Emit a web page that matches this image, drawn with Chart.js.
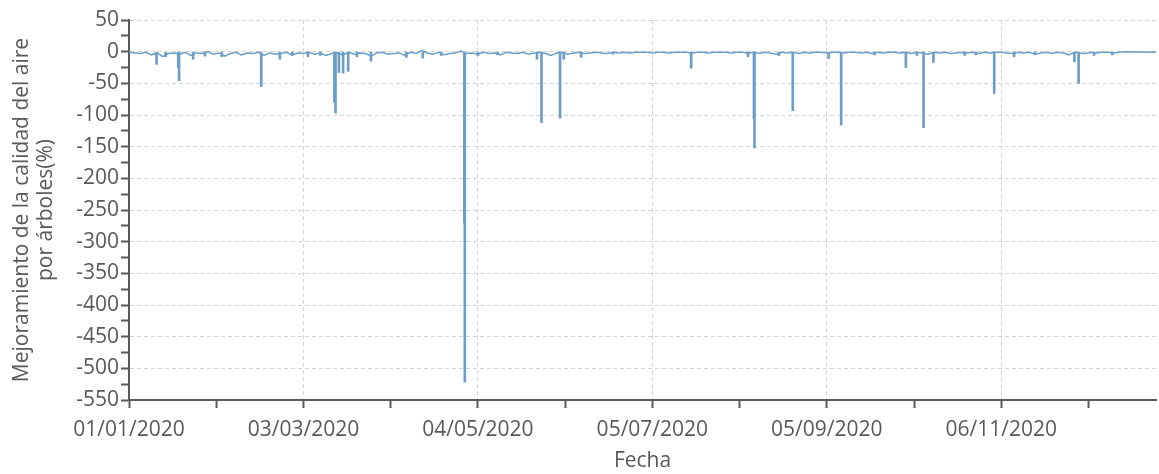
<!DOCTYPE html>
<html><head><meta charset="utf-8">
<script src="https://cdn.jsdelivr.net/npm/chart.js@4/dist/chart.umd.min.js"></script>
<style>html,body{margin:0;padding:0;background:#fff}#wrap{width:1159px;height:474px}</style>
</head><body><div id="wrap"><canvas id="c" width="1159" height="474"></canvas></div>
<script>
// Day offsets from 01/01/2020; baseline sampled every 2 days (days 0..354)
const baselineValues = [
 -1,-2,-3,-1,-5,-2,-8,-3,-2,-4,-1,-6,-2,-3,0,-4,-2,-7,-3,-1,-5,-2,-3,-1,-6,-2,-4,-3,-1,-5,-2,
 -3,-1,-4,-2,-6,-3,-2,-5,-1,-4,-2,-3,-7,-2,-1,-4,-3,-2,-6,-1,-3,2,-2,-4,-1,-5,-3,-2,1,-3,
 -2,-4,-1,-3,-2,-5,-1,-2,-3,-1,-4,-2,-1,-3,-6,-2,-1,-4,-2,-1,-3,-2,-1,-2,-3,-1,-2,-1,-2,-1,
 -1,-1,-2,-1,-1,-2,-1,-1,-1,-2,-1,-1,-2,-1,-1,-1,-2,-1,-1,-2,-1,-3,-1,-2,-4,-1,-2,-1,-3,-1,
 -2,-1,-1,-2,-1,-1,-2,-1,-1,-2,-1,-3,-1,-2,-1,-1,-2,-1,-3,-1,-2,-4,-1,-2,-1,-3,-2,-1,-2,-1,
 -3,-1,-2,-1,-1,-2,-3,-1,-2,-1,-4,-2,-1,-3,-1,-2,-5,-1,-2,-3,-1,-2,-1,-1,-2,-1,0
];
const baselineStep = 2;
const endDay = 365;
const endValue = -1;

const spikeDays = [9.8,13,17.5,17.8,22.8,27,33,47,53.6,58,63.6,68,73.0,73.4,74.6,76.1,77.9,81,86,98.6,104.4,111,
 119.2,119.35,124,131,145,146.6,153.2,154.5,160.7,172,199.8,220,222.1,222.3,231,235.9,248.7,253.1,265,276.1,280,
 282.4,285.9,297,301,307.5,314.6,322,336,337.5,343,349.5];
const spikeValues = [-20,-8,-25,-46,-12,-7,-8,-55,-12,-6,-8,-6,-80,-97,-33,-34,-31,-8,-15,-9,-10,-6,
 -270,-522,-6,-5,-12,-112,-105,-12,-9,-4,-26,-8,-106,-152,-6,-93,-11,-116,-5,-25,-6,
 -120,-17,-6,-5,-66,-8,-5,-16,-50,-6,-5];

const yMin = -550, yMax = 50, yStep = 25, yLabelStep = 50;
const xMin = 0, xMax = 365, xMinorStep = 31, xMajorStep = 62;
const startDate = new Date(2020, 0, 1);

const lineColor = 'rgb(108,158,200)';
const axisColor = '#595959';
const gridColor = '#d4d4d4';
const fontFamily = '"Open Sans", "Noto Sans", sans-serif';

const baselineData = baselineValues.map((v, i) => ({x: i * baselineStep, y: v}));
baselineData.push({x: endDay, y: endValue});
const spikeData = spikeDays.map((d, i) => ({x: d, y: spikeValues[i]}));

function fmtDate(days) {
  const d = new Date(startDate.getTime());
  d.setDate(d.getDate() + days);
  const dd = String(d.getDate()).padStart(2, '0');
  const mm = String(d.getMonth() + 1).padStart(2, '0');
  return dd + '/' + mm + '/' + d.getFullYear();
}

new Chart(document.getElementById('c'), {
  type: 'line',
  data: {
    datasets: [
      {type: 'bar', data: spikeData, backgroundColor: lineColor, borderWidth: 0, barThickness: 2, grouped: false},
      {type: 'line', data: baselineData, borderColor: lineColor, borderWidth: 1.5, pointRadius: 0, tension: 0, fill: false}
    ]
  },
  options: {
    responsive: false,
    devicePixelRatio: 1,
    animation: false,
    events: [],
    layout: {padding: {top: 20, right: 3, left: 10, bottom: 0}},
    plugins: {legend: {display: false}, tooltip: {enabled: false}},
    scales: {
      x: {
        type: 'linear', min: xMin, max: xMax, offset: false,
        afterBuildTicks: s => { s.ticks = s.ticks.filter(t => t.value % xMinorStep === 0); },
        afterFit: s => { s.height = 74; },
        ticks: {
          stepSize: xMinorStep, autoSkip: false, maxRotation: 0, minRotation: 0,
          color: axisColor, font: {family: fontFamily, size: 21}, padding: 9,
          callback: v => (v % xMajorStep === 0 ? fmtDate(v) : '')
        },
        grid: {
          offset: false,
          color: c => (c.tick && c.tick.value % xMajorStep === 0 && c.tick.value > 0 ? gridColor : 'rgba(0,0,0,0)'),
          tickColor: axisColor, tickLength: 8, lineWidth: 1, tickWidth: 2
        },
        border: {color: axisColor, width: 2, dash: [4, 3]},
        title: {display: true, text: 'Fecha', color: axisColor, font: {family: fontFamily, size: 21}, padding: {top: 0, bottom: 0}}
      },
      y: {
        type: 'linear', min: yMin, max: yMax,
        afterFit: s => { s.width = 119; },
        ticks: {
          stepSize: yStep, autoSkip: false, color: axisColor, font: {family: fontFamily, size: 21}, padding: 2,
          callback: v => (v % yLabelStep === 0 ? String(v) : '')
        },
        grid: {
          color: c => (c.tick && c.tick.value % yLabelStep === 0 ? gridColor : 'rgba(0,0,0,0)'),
          tickColor: axisColor, tickLength: 8, lineWidth: 1, tickWidth: 2
        },
        border: {color: axisColor, width: 2, dash: [4, 3]},
        title: {display: true, text: ['Mejoramiento de la calidad del aire', 'por árboles(%)'], color: axisColor,
          font: {family: fontFamily, size: 21, lineHeight: 1.15}, padding: {top: 0, bottom: 0}}
      }
    }
  }
});
</script></body></html>
